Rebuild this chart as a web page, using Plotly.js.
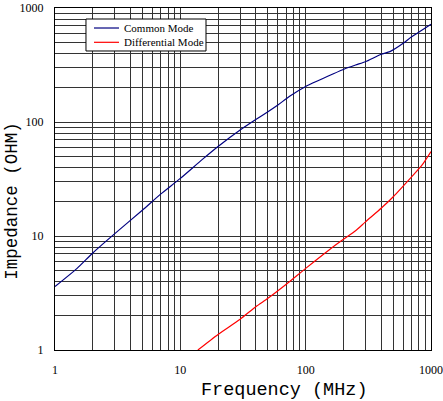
<!DOCTYPE html>
<html>
<head>
<meta charset="utf-8">
<script src="https://cdn.plot.ly/plotly-3.0.1.min.js"></script>
<style>html,body{margin:0;padding:0;background:#fff;}#chart{width:443px;height:401px;}</style>
</head>
<body>
<div id="chart"></div>
<script>
// Data
const freqCommon = [1, 1.5, 2, 3, 5, 7, 10, 15, 20, 30, 40, 50, 60, 75, 100, 150, 200, 250, 300, 400, 470, 600, 700, 850, 1000];
const zCommon    = [3.6, 5.2, 7.1, 10.5, 16.9, 23.4, 32, 47, 61, 85, 105, 123, 141, 169, 205, 252, 289, 316, 338, 393, 414, 490, 560, 641, 721];
const freqDiff   = [13.8, 20, 30, 40, 50, 70, 100, 150, 200, 250, 300, 400, 500, 700, 850, 1000];
const zDiff      = [1.0, 1.37, 1.86, 2.4, 2.84, 3.77, 5.2, 7.4, 9.35, 11.1, 13.3, 17.5, 22.1, 33, 42, 55];
const seriesNames = ['Common Mode', 'Differential Mode'];
const seriesColors = ['#000080', '#ff0000'];
const decadeLabels = ['1', '10', '100', '1000'];
const xTitle = 'Frequency (MHz)';
const yTitle = 'Impedance (OHM)';

// grid at every 1..9 x decade, labels only at decades
const tickVals = [], tickText = [];
for (let d = 0; d < 3; d++) {
  for (let m = 1; m < 10; m++) {
    tickVals.push(m * Math.pow(10, d));
    tickText.push(m === 1 ? decadeLabels[d] : '');
  }
}
tickVals.push(1000); tickText.push(decadeLabels[3]);

const traces = [
  {x: freqCommon, y: zCommon, type: 'scatter', mode: 'lines', name: seriesNames[0],
   line: {color: seriesColors[0], width: 1.2, shape: 'spline', smoothing: 0.6}},
  {x: freqDiff, y: zDiff, type: 'scatter', mode: 'lines', name: seriesNames[1],
   line: {color: seriesColors[1], width: 1.2, shape: 'spline', smoothing: 0.6}}
];

const axisCommon = {
  type: 'log', tickmode: 'array', tickvals: tickVals, ticktext: tickText,
  showgrid: true, gridcolor: '#333', gridwidth: 1,
  showline: true, linecolor: '#000', linewidth: 1, mirror: true,
  ticks: '', zeroline: false,
  tickfont: {family: 'Liberation Serif, Times New Roman, serif', size: 12, color: '#000'}
};

const titleFont = {family: 'Liberation Mono, Courier New, monospace', color: '#000'};
const legendFont = {family: 'Liberation Serif, Times New Roman, serif', size: 11, color: '#000'};

// Legend box drawn in paper coordinates
const legBox = {x0: 0.0824, x1: 0.4016, y0: 0.8743, y1: 0.9678};
const legLineX = [0.1037, 0.1702];
const legRowY = [0.9415, 0.8997];
const legTextX = 0.1809;

const shapes = [
  {type: 'rect', xref: 'paper', yref: 'paper', x0: legBox.x0, x1: legBox.x1, y0: legBox.y0, y1: legBox.y1,
   fillcolor: '#fff', line: {color: '#000', width: 1}, layer: 'above'}
];
const annotations = [
  {text: xTitle, xref: 'paper', yref: 'paper', x: 0.61, y: -0.117,
   xanchor: 'center', yanchor: 'middle', showarrow: false, borderpad: 0,
   font: Object.assign({size: 18.5}, titleFont)},
  {text: yTitle, xref: 'paper', yref: 'paper', x: -0.113, y: 0.435,
   xanchor: 'center', yanchor: 'middle', showarrow: false, textangle: -90, borderpad: 0,
   font: Object.assign({size: 17.5}, titleFont)}
];
seriesNames.forEach((n, i) => {
  shapes.push({type: 'line', xref: 'paper', yref: 'paper', x0: legLineX[0], x1: legLineX[1],
               y0: legRowY[i], y1: legRowY[i], line: {color: seriesColors[i], width: 1.2}, layer: 'above'});
  annotations.push({text: n, xref: 'paper', yref: 'paper', x: legTextX, y: legRowY[i],
                    xanchor: 'left', yanchor: 'middle', showarrow: false, borderpad: 0, font: legendFont});
});

const layout = {
  width: 443, height: 401,
  margin: {l: 55, r: 12, t: 8, b: 51},
  paper_bgcolor: '#fff', plot_bgcolor: '#fff',
  showlegend: false,
  xaxis: Object.assign({}, axisCommon, {range: [0, 3], ticklabelstandoff: 9}),
  yaxis: Object.assign({}, axisCommon, {range: [0, 3], ticklabelstandoff: 8}),
  shapes: shapes,
  annotations: annotations
};

Plotly.newPlot('chart', traces, layout, {displayModeBar: false, staticPlot: true});
</script>
</body>
</html>
